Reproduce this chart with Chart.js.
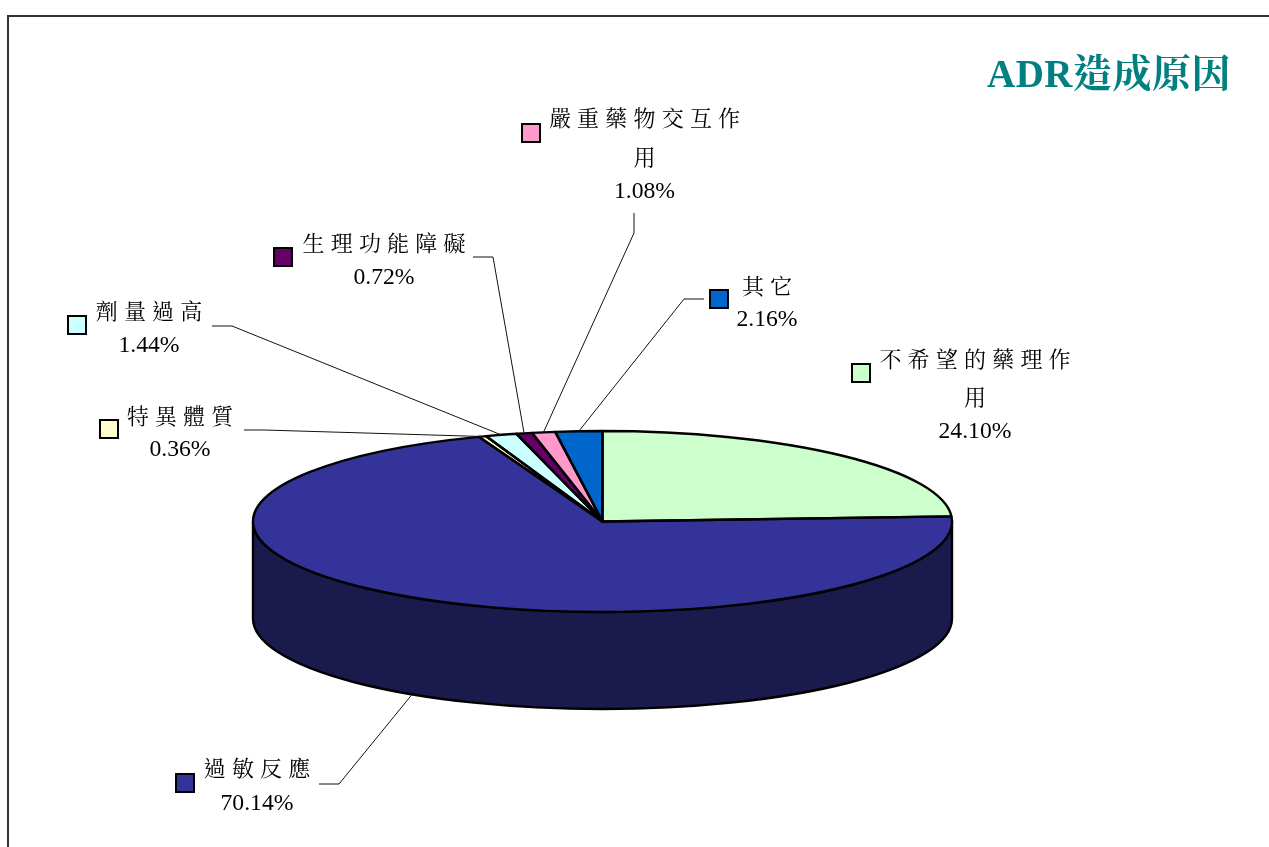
<!DOCTYPE html>
<html lang="zh-Hant"><head><meta charset="utf-8">
<style>html,body{margin:0;padding:0;background:#fff;overflow:hidden}canvas{display:block}</style>
<script src="https://cdn.jsdelivr.net/npm/chart.js@4"></script>
</head><body><canvas id="c" width="1269" height="847"></canvas>
<script>
const categories = ["不希望的藥理作用","過敏反應","特異體質","劑量過高","生理功能障礙","嚴重藥物交互作用","其它"];
const values = [24.10,70.14,0.36,1.44,0.72,1.08,2.16];
const titleText = "ADR造成原因";
const topColors = ["#CCFFCC","#333399","#FFFFCC","#CCFFFF","#660066","#FF99CC","#0066CC"];
const sideColors = ["#666680","#1A1A4D","#808066","#668080","#330033","#804D66","#003366"];
// label layout: swatch x,y; text centre x; y centres of text lines
const labelLayout = [
 {sx:851,sy:363,cx:975,ys:[361,399,432]},
 {sx:175,sy:773,cx:257,ys:[770,804],stub:[[319,784],[339,784]]},
 {sx:99,sy:419,cx:180,ys:[418,450],stub:[[244,430],[264,430]]},
 {sx:67,sy:315,cx:149,ys:[313,346],stub:[[212,326],[232,326]]},
 {sx:273,sy:247,cx:384,ys:[245,278],stub:[[473,257],[493,257]]},
 {sx:521,sy:123,cx:644.5,ys:[120,159,192],stub:[[634,213],[634,233]]},
 {sx:709,sy:289,cx:767,ys:[288,320],stub:[[704,299],[684,299]]}
];
const SQUASH = 90.5/349.5, CY = 521.5, DEPTH = 97, WRAP = 7, PITCH = 28.2;
const CJK_SIZE = 22, NUM_SIZE = 23.7, EDGE = 2.4;
const FONT = '"Liberation Serif","Noto Serif CJK TC","Noto Sans CJK TC",serif';

const pie3d = {
 id:'pie3d',
 beforeDatasetsDraw(chart){
  const ctx = chart.ctx, arcs = chart.getDatasetMeta(0).data;
  ctx.save();
  ctx.lineWidth = EDGE; ctx.strokeStyle = '#000'; ctx.lineJoin='round';
  arcs.forEach((a,i)=>{
   const s = Math.max(a.startAngle,0), e = Math.min(a.endAngle,Math.PI);
   if(e<=s) return;
   const rx=a.outerRadius, ry=rx*SQUASH;
   ctx.beginPath();
   ctx.ellipse(a.x,CY,rx,ry,0,s,e);
   ctx.ellipse(a.x,CY+DEPTH,rx,ry,0,e,s,true);
   ctx.closePath();
   ctx.fillStyle = sideColors[i];
   ctx.fill(); ctx.stroke();
  });
  ctx.restore();
  const a0 = arcs[0];
  ctx.save();
  ctx.translate(a0.x,CY); ctx.scale(1,SQUASH); ctx.translate(-a0.x,-a0.y);
 },
 afterDatasetsDraw(chart){
  const ctx = chart.ctx, arcs = chart.getDatasetMeta(0).data;
  ctx.restore();
  ctx.save();
  ctx.lineWidth = EDGE; ctx.strokeStyle = '#000'; ctx.lineJoin='round';
  arcs.forEach(a=>{
   const rx=a.outerRadius, ry=rx*SQUASH;
   ctx.beginPath();
   ctx.moveTo(a.x,CY);
   ctx.ellipse(a.x,CY,rx,ry,0,a.startAngle,a.endAngle);
   ctx.closePath();
   ctx.stroke();
  });
  ctx.restore();
 },
 afterDraw(chart){
  const ctx = chart.ctx, arcs = chart.getDatasetMeta(0).data;
  ctx.save();
  // frame
  ctx.fillStyle='#333';
  ctx.fillRect(7,15,1262,2); ctx.fillRect(7,15,2,832);
  // title
  ctx.fillStyle='#008080'; ctx.textAlign='left'; ctx.textBaseline='alphabetic';
  ctx.font='bold 39px '+FONT; ctx.letterSpacing='0.5px';
  ctx.fillText(titleText,987,87);
  // leaders
  ctx.letterSpacing='0px';
  ctx.strokeStyle='#111'; ctx.lineWidth=1;
  arcs.forEach((a,i)=>{
   const L=labelLayout[i]; if(!L.stub) return;
   const m=(a.startAngle+a.endAngle)/2, rx=a.outerRadius, ry=rx*SQUASH;
   let ex=a.x+Math.cos(m)*rx, ey=CY+Math.sin(m)*ry;
   if(Math.sin(m)>0) ey+=DEPTH;
   ctx.beginPath();
   ctx.moveTo(L.stub[0][0],L.stub[0][1]);
   ctx.lineTo(L.stub[1][0],L.stub[1][1]);
   ctx.lineTo(ex,ey);
   ctx.stroke();
  });
  // labels
  categories.forEach((name,i)=>{
   const L=labelLayout[i];
   ctx.fillStyle=topColors[i]; ctx.strokeStyle='#000'; ctx.lineWidth=2;
   ctx.fillRect(L.sx+1,L.sy+1,18,18); ctx.strokeRect(L.sx+1,L.sy+1,18,18);
   const lines=[];
   for(let k=0;k<name.length;k+=WRAP) lines.push(name.slice(k,k+WRAP));
   ctx.fillStyle='#000'; ctx.textBaseline='middle'; ctx.textAlign='left';
   ctx.font=CJK_SIZE+'px '+FONT;
   ctx.letterSpacing=(PITCH-CJK_SIZE)+'px';
   lines.forEach((t,k)=>{
    const w=(t.length-1)*PITCH+CJK_SIZE;
    ctx.fillText(t,L.cx-w/2,L.ys[k]);
   });
   ctx.letterSpacing='0px'; ctx.textAlign='center';
   ctx.font=NUM_SIZE+'px '+FONT;
   ctx.fillText(values[i].toFixed(2)+'%',L.cx,L.ys[lines.length]);
  });
  ctx.restore();
 }
};

new Chart(document.getElementById('c'),{
 type:'pie',
 data:{labels:categories,datasets:[{data:values,backgroundColor:topColors,borderWidth:0,hoverOffset:0}]},
 options:{
  responsive:false,animation:false,
  layout:{padding:{left:253,right:317,top:74,bottom:74}},
  plugins:{legend:{display:false},tooltip:{enabled:false},title:{display:false}},
  events:[]
 },
 plugins:[pie3d]
});
</script></body></html>
